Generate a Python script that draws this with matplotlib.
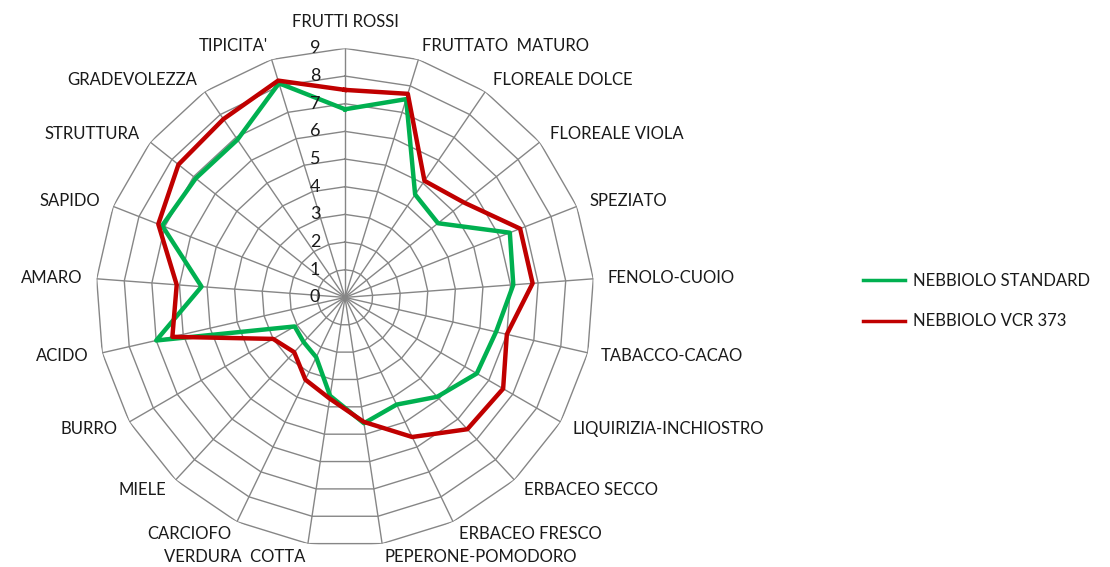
import numpy as np
import matplotlib.pyplot as plt
from matplotlib.lines import Line2D

# Valori (scala 0-9)
categorie = ['FRUTTI ROSSI', 'FRUTTATO  MATURO', 'FLOREALE DOLCE', 'FLOREALE VIOLA',
             'SPEZIATO', 'FENOLO-CUOIO', 'TABACCO-CACAO', 'LIQUIRIZIA-INCHIOSTRO',
             'ERBACEO SECCO', 'ERBACEO FRESCO', 'PEPERONE-POMODORO', 'VERDURA  COTTA',
             'CARCIOFO', 'MIELE', 'BURRO', 'ACIDO', 'AMARO', 'SAPIDO', 'STRUTTURA',
             'GRADEVOLEZZA', "TIPICITA'"]
standard = [6.8, 7.5, 4.5, 4.3, 6.4, 6.1, 5.6, 5.5, 4.9, 4.3, 4.6, 3.6,
            2.4, 2.2, 2.1, 7.0, 5.2, 7.1, 6.9, 6.9, 8.1]
vcr373 = [7.5, 7.7, 5.1, 5.5, 6.8, 6.8, 6.0, 6.6, 6.5, 5.6, 4.55, 3.7,
          3.3, 2.7, 3.0, 6.4, 6.1, 7.25, 7.7, 7.8, 8.2]
livelli = list(range(0, 10))
serie = ['NEBBIOLO STANDARD', 'NEBBIOLO VCR 373']

verde = '#00b050'
rosso = '#c00000'
griglia = '#868686'
testo = '#1a1a1a'

plt.rcParams['font.family'] = ['Lato', 'DejaVu Sans']

n = len(categorie)
ang = np.linspace(0, 2 * np.pi, n, endpoint=False)
ang_c = np.append(ang, ang[0])

fig = plt.figure(figsize=(11.1, 5.67), dpi=100, facecolor='w')
ax = fig.add_axes([96 / 1110, 20.6 / 567, 498 / 1110, 498 / 567], projection='polar')
ax.set_theta_offset(np.pi / 2)
ax.set_theta_direction(-1)
ax.set_ylim(0, 9)
ax.grid(False)
ax.set_xticks([])
ax.set_yticks([])
ax.spines['polar'].set_visible(False)

# griglia poligonale stile Excel
for r in livelli[1:]:
    ax.plot(ang_c, [r] * (n + 1), color=griglia, lw=1, zorder=1)
for a in ang:
    ax.plot([a, a], [0, 9], color=griglia, lw=1, zorder=1)

ax.plot(ang_c, standard + standard[:1], color=verde, lw=3.2, zorder=3)
ax.plot(ang_c, vcr373 + vcr373[:1], color=rosso, lw=3.2, zorder=4)

# etichette categorie
for a, lab in zip(ang, categorie):
    s = np.sin(a)
    if abs(s) < 1e-6:
        ax.annotate(lab, xy=(a, 9), xytext=(0, 18), textcoords='offset pixels',
                    ha='center', va='bottom', fontsize=12, color=testo)
    else:
        ha = 'left' if s > 0 else 'right'
        ax.text(a, 9.5, lab, ha=ha, va='center', fontsize=12, color=testo)

# valori asse
for v in livelli:
    ax.annotate(str(v), xy=(0, v), xytext=(-30, 0), textcoords='offset pixels',
                ha='center', va='center', fontsize=13, color=testo)

handles = [Line2D([], [], color=verde, lw=2.5), Line2D([], [], color=rosso, lw=2.5)]
fig.legend(handles, serie, loc='center left', bbox_to_anchor=(848 / 1110, 1 - 301 / 567),
           frameon=False, fontsize=12, handlelength=2.5, labelspacing=1.5,
           handletextpad=0.5, labelcolor=testo)

fig.savefig('out.png', dpi=100)
